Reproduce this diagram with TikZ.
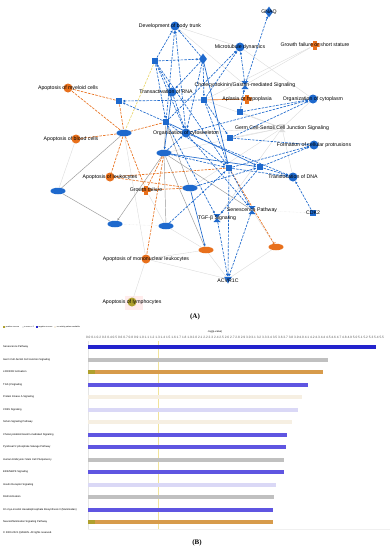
\documentclass[tikz,border=0pt]{standalone}
\usepackage{fontspec}
\setmainfont{Liberation Sans}
\newfontfamily\capfont{Liberation Serif}
\usepackage{tikz}
\usetikzlibrary{arrows.meta,positioning,shapes.geometric,backgrounds}
\definecolor{ipablue}{RGB}{30,105,205}
\definecolor{ipaorange}{RGB}{232,112,28}
\definecolor{ipaolive}{RGB}{175,160,45}
\definecolor{ipayellow}{RGB}{235,215,110}
\definecolor{barnavy}{RGB}{35,35,205}
\definecolor{barblue}{RGB}{95,85,225}
\definecolor{bargrey}{RGB}{192,192,192}
\definecolor{barorange}{RGB}{215,155,75}
\definecolor{barbeige}{RGB}{246,239,226}
\definecolor{barlav}{RGB}{218,216,246}

\begin{document}
\begin{tikzpicture}[x=1pt, y=-1pt,
  fn/.style={circle, fill=ipablue, minimum size=9pt, inner sep=0pt},
  fnor/.style={circle, fill=ipaorange, minimum size=9pt, inner sep=0pt},
  gene/.style={ellipse, fill=ipablue, minimum width=15pt, minimum height=6.5pt, inner sep=0pt},
  geneor/.style={ellipse, fill=ipaorange, minimum width=15pt, minimum height=6.5pt, inner sep=0pt},
  sq/.style={rectangle, fill=ipablue, minimum size=6.5pt, inner sep=0pt},
  dia/.style={diamond, fill=ipablue, minimum width=8pt, minimum height=11pt, inner sep=0pt},
  tri/.style={regular polygon, regular polygon sides=3, shape border rotate=180, fill=ipablue, minimum size=9pt, inner sep=0pt},
  hourglass/.style={rectangle, minimum width=7pt, minimum height=8pt, inner sep=0pt,
    path picture={
      \fill[#1] (path picture bounding box.north west) -- (path picture bounding box.north east) -- (path picture bounding box.center) -- cycle;
      \fill[#1] (path picture bounding box.south west) -- (path picture bounding box.south east) -- (path picture bounding box.center) -- cycle;}},
  hourglass/.default=ipablue,
  plusnode/.style={rectangle, minimum size=9pt, inner sep=0pt,
    path picture={
      \fill[ipaorange] ([xshift=-1.6pt]path picture bounding box.north) rectangle ([xshift=1.6pt]path picture bounding box.south);
      \fill[ipaorange] ([yshift=1.6pt]path picture bounding box.west) rectangle ([yshift=-1.6pt]path picture bounding box.east);}},
  lbl/.style={font=\fontsize{5.2}{6}\selectfont, inner sep=0pt},
  blueact/.style={ipablue, line width=0.65pt, dash pattern=on 2.5pt off 1.2pt, -{Latex[length=2.6pt,width=2.4pt]}},
  bluedir/.style={ipablue, line width=0.65pt, -{Latex[length=2.6pt,width=2.4pt]}},
  oract/.style={ipaorange, line width=0.65pt, dash pattern=on 2.5pt off 1.2pt},
  yellowinc/.style={ipayellow, line width=0.65pt, dash pattern=on 2.5pt off 1.2pt},
  greydir/.style={gray!80, line width=0.45pt},
  greyfaint/.style={gray!30, line width=0.35pt},
  rowlbl/.style={anchor=west, font=\fontsize{2.6}{3}\selectfont, inner sep=0pt},
  leglbl/.style={anchor=west, font=\fontsize{1.9}{2.2}\selectfont, inner sep=0pt},
  ticklbl/.style={font=\fontsize{3.2}{3.6}\selectfont, inner sep=0pt, text=gray!70!black},
  panelcap/.style={font=\capfont\bfseries\fontsize{7}{8}\selectfont, inner sep=0pt}
]
\useasboundingbox (0,0) rectangle (390,550);

% network (A)
\node[fn, label={[lbl, xshift=-5pt]center:Development of body trunk}] (trunk) at (175,26) {};
\node[dia, label={[lbl]center:GNAQ}] (gnaq) at (269,12) {};
\node[fn, label={[lbl]center:Microtubule dynamics}] (micro) at (240,47) {};
\node[plusnode, label={[lbl]center:Growth failure or short stature}] (stature) at (315,45) {};
\node[sq] (sqA) at (155,61) {};
\node[dia] (dmA) at (203,59) {};
\node[fnor, label={[lbl]center:Apoptosis of myeloid cells}] (myeloid) at (68,88) {};
\node[fn, label={[lbl, xshift=-6pt]center:Transactivation of RNA}] (rna) at (172,92) {};
\node[hourglass, label={[lbl]center:Cholecystokinin/Gastrin-mediated Signaling}] (cck) at (245,85) {};
\node[sq] (sqB) at (119,101) {};
\node[sq] (sqC) at (204,100) {};
\node[plusnode, label={[lbl]center:Aplasia or hypoplasia}] (aplasia) at (247,99) {};
\node[fn, label={[lbl]center:Organization of cytoplasm}] (cytoplasm) at (313,99) {};
\node[sq] (sqD) at (240,112) {};
\node[sq] (sqE) at (166,122) {};
\node[hourglass=gray!25, label={[lbl]center:Germ Cell-Sertoli Cell Junction Signaling}] (germ) at (282,128) {};
\node[gene] (elA) at (124,133) {};
\node[fnor, label={[lbl, xshift=-5pt]center:Apoptosis of blood cells}] (blood) at (76,139) {};
\node[fn, label={[lbl]center:Organization of cytoskeleton}] (cyto) at (186,133) {};
\node[sq] (sqF) at (230,138) {};
\node[fn, label={[lbl]center:Formation of cellular protrusions}] (protr) at (314,145) {};
\node[gene] (elB) at (164,153) {};
\node[sq] (sqG) at (229,168) {};
\node[sq] (sqH) at (260,167) {};
\node[fn, label={[lbl]center:Translocation of DNA}] (dna) at (293,177) {};
\node[fnor, label={[lbl]center:Apoptosis of leukocytes}] (leuko) at (110,177) {};
\node[plusnode, label={[lbl]center:Growth failure}] (growth) at (146,190) {};
\node[gene] (elC) at (190,188) {};
\node[gene] (elD) at (58,191) {};
\node[hourglass, label={[lbl]center:Senescence Pathway}] (senes) at (252,210) {};
\node[sq, label={[lbl]center:CDK2}] (sqI) at (313,213) {};
\node[hourglass, label={[lbl]center:TGF-β Signaling}] (tgf) at (217,218) {};
\node[gene] (elE) at (115,224) {};
\node[gene] (elF) at (166,226) {};
\node[geneor] (elG) at (206,250) {};
\node[geneor] (elH) at (276,247) {};
\node[fnor, label={[lbl]center:Apoptosis of mononuclear leukocytes}] (mono) at (146,259) {};
\node[tri, label={[lbl, yshift=-2pt]center:ACVR1C}] (acvr) at (228,279) {};
\node[circle, fill=ipaolive, minimum size=9pt, inner sep=0pt, label={[lbl]center:Apoptosis of lymphocytes}] (lymph) at (132,302) {};
\node[panelcap] (capA) at (195,317) {(A)};

\begin{scope}[on background layer]
\fill[white] (0,0) rectangle (390,550);
\fill[pink!30] (125,296) rectangle (143,310);
% faint relations
\draw[greyfaint] (mono) -- (lymph);
\draw[greyfaint] (elA) -- (mono);
\draw[greyfaint] (mono) -- (acvr);
\draw[greyfaint] (mono) -- (elG);
\draw[greyfaint, densely dotted] (elE) -- (elF);
\draw[greyfaint] (acvr) -- (elH);
\draw[greyfaint] (acvr) -- (elG);
\draw[greyfaint, densely dotted] (senes) -- (sqI);
\draw[greyfaint] (stature) -- (cck);
\draw[greyfaint] (stature) -- (sqC);
\draw[greyfaint] (trunk) -- (micro);
\draw[greyfaint] (germ) -- (sqD);
\draw[greyfaint] (germ) -- (sqF);
\draw[greyfaint] (germ) -- (cyto);
\draw[greyfaint] (germ) -- (elC);
\draw[greyfaint] (germ) -- (tgf);
\draw[greyfaint] (germ) -- (cytoplasm);
\draw[greyfaint] (germ) -- (dna);
\draw[greyfaint] (germ) -- (sqC);
\draw[greyfaint] (germ) -- (elB);
\draw[greyfaint] (blood) -- (elD);
\draw[greyfaint] (elH) -- (senes);
\draw[greyfaint] (elF) -- (elG);
\draw[greyfaint] (growth) -- (elF);
\draw[greyfaint] (trunk) -- (cck);
\draw[greyfaint] (micro) -- (cytoplasm);
% direct relations
\draw[greydir] (elD) -- (elA);
\draw[greydir] (elD) -- (elE);
\draw[greydir, -{Latex[length=2.4pt,width=2.2pt]}] (elB) -- (elE);
\draw[greydir] (elB) -- (elF);
\draw[greydir] (elB) -- (elG);
\draw[greydir] (sqE) -- (elB);
\draw[greydir] (elB) -- (senes);
\draw[greydir] (sqE) -- (elC);
% leads to activation
\draw[oract] (sqB) -- (myeloid);
\draw[oract] (elA) -- (myeloid);
\draw[oract] (elA) -- (blood);
\draw[oract] (sqB) -- (elA);
\draw[oract] (elA) -- (sqE);
\draw[oract] (elA) -- (leuko);
\draw[oract] (elA) -- (growth);
\draw[oract] (sqG) -- (leuko);
\draw[oract] (elC) -- (growth);
\draw[oract] (elB) -- (growth);
\draw[oract] (elB) -- (mono);
\draw[oract] (elC) -- (leuko);
\draw[oract, -{Bar[width=3.5pt]}] (sqG) -- (elH);
\draw[ipaorange, line width=0.65pt] (sqC) -- (aplasia);
\draw[yellowinc] (sqA) -- (elA);
% leads to inhibition
\draw[blueact] (sqA) -- (trunk);
\draw[blueact] (sqA) -- (dmA);
\draw[blueact] (sqA) -- (rna);
\draw[blueact] (sqA) -- (sqE);
\draw[blueact] (sqA) -- (cyto);
\draw[blueact] (sqA) -- (sqG);
\draw[blueact] (dmA) -- (trunk);
\draw[blueact] (sqE) -- (trunk);
\draw[blueact] (cyto) -- (trunk);
\draw[blueact] (dmA) -- (rna);
\draw[blueact] (dmA) -- (sqC);
\draw[blueact] (dmA) -- (cyto);
\draw[blueact] (cck) -- (gnaq);
\draw[blueact] (sqE) -- (micro);
\draw[blueact] (sqC) -- (micro);
\draw[blueact] (cck) -- (micro);
\draw[blueact] (sqD) -- (cck);
\draw[blueact] (sqC) -- (sqB);
\draw[blueact] (sqE) -- (sqB);
\draw[blueact] (sqD) -- (cytoplasm);
\draw[blueact] (sqF) -- (cytoplasm);
\draw[blueact] (cyto) -- (cytoplasm);
\draw[blueact] (sqF) -- (protr);
\draw[blueact] (sqH) -- (protr);
\draw[blueact] (sqG) -- (protr);
\draw[blueact] (sqG) -- (dna);
\draw[blueact] (sqH) -- (dna);
\draw[blueact] (sqI) -- (dna);
\draw[blueact] (cyto) -- (dna);
\draw[blueact] (sqE) -- (sqG);
\draw[blueact] (sqE) -- (tgf);
\draw[blueact] (elB) -- (sqG);
\draw[blueact] (elB) -- (cyto);
\draw[blueact] (cyto) -- (senes);
\draw[blueact] (sqG) -- (senes);
\draw[blueact] (sqH) -- (tgf);
\draw[blueact] (senes) -- (acvr);
\draw[blueact] (tgf) -- (acvr);
\draw[blueact] (sqG) -- (acvr);
\draw[blueact] (elC) -- (sqH);
\draw[blueact] (elF) -- (sqG);
\draw[blueact] (sqC) -- (sqF);
\draw[blueact] (rna) -- (cyto);
\draw[blueact] (sqC) -- (sqG);
\draw[bluedir] (dmA) -- (sqG);
\draw[bluedir] (rna) -- (elB);
\draw[bluedir] (elB) -- (sqH);
\draw[bluedir] (sqE) -- (sqH);
\draw[bluedir] (elC) -- (elG);
\end{scope}

% bar chart (B)
\fill[ipaolive] (3,326) rectangle (5,328);
\node[leglbl] (legpos) at (5.7,327) {positive z-score};
\fill[gray!15] (21.5,326) rectangle (23.5,328);
\node[leglbl] (legzero) at (24.2,327) {z-score = 0};
\fill[barnavy] (35.5,326) rectangle (37.5,328);
\node[leglbl] (legneg) at (38.2,327) {negative z-score};
\fill[barbeige] (54,326) rectangle (56,328);
\node[leglbl] (legnone) at (56.7,327) {no activity pattern available};
\node[rowlbl, anchor=center] (axtitle) at (215,332) {-log(p-value)};
\node[ticklbl, anchor=west] (ticks) at (85.8,337) {0.0 0.1 0.2 0.3 0.4 0.5 0.6 0.7 0.8 0.9 1.0 1.1 1.2 1.3 1.4 1.5 1.6 1.7 1.8 1.9 2.0 2.1 2.2 2.3 2.4 2.5 2.6 2.7 2.8 2.9 3.0 3.1 3.2 3.3 3.4 3.5 3.6 3.7 3.8 3.9 4.0 4.1 4.2 4.3 4.4 4.5 4.6 4.7 4.8 4.9 5.0 5.1 5.2 5.3 5.4 5.5};
\draw[gray!20, line width=0.3pt] (88,341) -- (88,529);
\draw[ipayellow!70, line width=0.3pt] (158,341) -- (158,529);
\draw[gray!12, line width=0.3pt] (88,529) -- (390,529);

\node[rowlbl] (r1) at (3,347) {Senescence Pathway};
\fill[barnavy] (88,345) rectangle (376,349);
\node[rowlbl] (r2) at (3,359.5) {Germ Cell-Sertoli Cell Junction Signaling};
\fill[bargrey] (88,357.5) rectangle (328,361.5);
\node[rowlbl] (r3) at (3,372) {LXR/RXR Activation};
\fill[barorange] (88,370) rectangle (323,374);
\fill[ipaolive] (88,370) rectangle (95,374);
\node[rowlbl] (r4) at (3,384.5) {TGF-β Signaling};
\fill[barblue] (88,382.5) rectangle (308,386.5);
\node[rowlbl] (r5) at (3,397) {Protein Kinase A Signaling};
\fill[barbeige] (88,395) rectangle (302,399);
\node[rowlbl] (r6) at (3,409.5) {CDK5 Signaling};
\fill[barlav] (88,407.5) rectangle (298,411.5);
\node[rowlbl] (r7) at (3,422) {Sirtuin Signaling Pathway};
\fill[barbeige] (88,420) rectangle (292,424);
\node[rowlbl] (r8) at (3,434.5) {Cholecystokinin/Gastrin-mediated Signaling};
\fill[barblue] (88,432.5) rectangle (287,436.5);
\node[rowlbl] (r9) at (3,447) {Pyridoxal 5'-phosphate Salvage Pathway};
\fill[barblue] (88,445) rectangle (286,449);
\node[rowlbl] (r10) at (3,459.5) {Human Embryonic Stem Cell Pluripotency};
\fill[bargrey] (88,457.5) rectangle (284,461.5);
\node[rowlbl] (r11) at (3,472) {ERK/MAPK Signaling};
\fill[barblue] (88,470) rectangle (284,474);
\node[rowlbl] (r12) at (3,484.5) {Insulin Receptor Signaling};
\fill[barlav] (88,482.5) rectangle (276,486.5);
\node[rowlbl] (r13) at (3,497) {RAR Activation};
\fill[bargrey] (88,495) rectangle (274,499);
\node[rowlbl] (r14) at (3,509.5) {1D-myo-inositol Hexakisphosphate Biosynthesis II (Mammalian)};
\fill[barblue] (88,507.5) rectangle (273,511.5);
\node[rowlbl] (r15) at (3,522) {Neuroinflammation Signaling Pathway};
\fill[barorange] (88,520) rectangle (273,524);
\fill[ipaolive] (88,520) rectangle (95,524);
\node[rowlbl] (copyr) at (3,533) {© 2000-2021 QIAGEN. All rights reserved.};
\node[panelcap] (capB) at (197,543) {(B)};
\end{tikzpicture}
\end{document}
